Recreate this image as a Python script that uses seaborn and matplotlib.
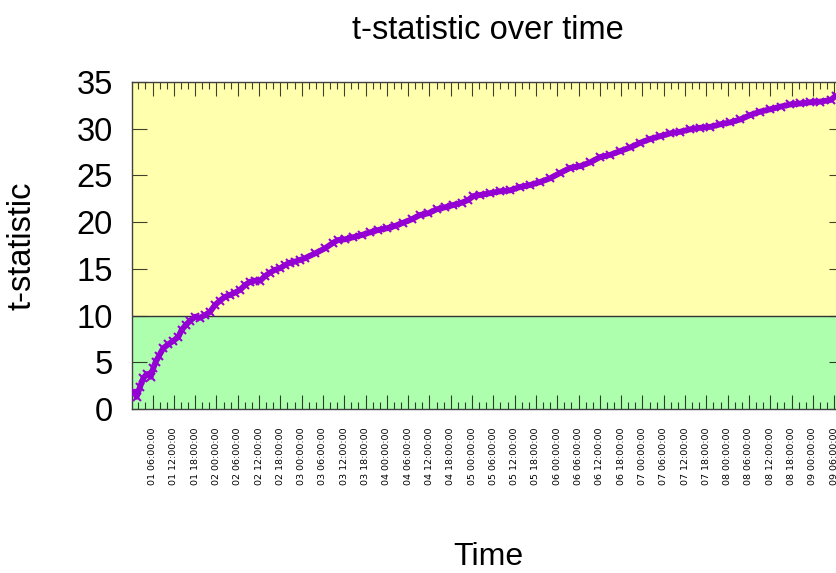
import numpy as np
import pandas as pd
import matplotlib
matplotlib.use("Agg")
import matplotlib.pyplot as plt
import matplotlib.dates as mdates
import seaborn as sns

# ---- data ----
hours = [1.1, 1.5, 2.5, 3.4, 4.4, 5.5, 6.2, 6.9, 7.8, 9.0,
         10.4, 11.9, 13.3, 14.2, 15.4, 16.6, 18.0, 19.4, 20.8, 22.2,
         23.6, 25.0, 26.4, 27.8, 29.2, 30.6, 32.1, 33.5, 34.9, 36.3,
         37.7, 39.1, 40.5, 41.9, 43.3, 44.7, 46.1, 47.5, 48.9, 51.8,
         54.6, 56.9, 58.3, 60.2, 62.5, 64.9, 67.3, 69.6, 72.0, 74.3,
         76.6, 79.0, 81.3, 83.7, 86.0, 88.4, 90.7, 93.1, 94.9, 96.4,
         98.2, 101.1, 103.9, 106.7, 109.5, 112.3, 115.2, 118.0, 120.8, 123.6,
         126.5, 129.3, 132.1, 134.9, 137.7, 140.6, 143.4, 146.2, 149.0, 151.8,
         154.7, 157.5, 160.3, 163.1, 165.9, 168.8, 171.6, 174.4, 177.2, 180.0,
         182.9, 185.7, 188.5, 191.3, 194.1, 197.0, 198.4]
t_stat = [1.85, 1.3, 2.4, 3.3, 3.75, 3.45, 4.35, 5.06, 5.67, 6.5,
          6.92, 7.3, 7.74, 8.46, 9.0, 9.45, 9.88, 9.77, 10.06, 10.4,
          11.13, 11.6, 12.0, 12.2, 12.45, 12.74, 13.27, 13.63, 13.73, 13.73,
          14.23, 14.6, 14.9, 15.06, 15.4, 15.66, 15.77, 15.95, 16.13, 16.66,
          17.2, 17.8, 18.09, 18.16, 18.38, 18.62, 18.91, 19.16, 19.34, 19.59,
          19.94, 20.3, 20.76, 20.95, 21.37, 21.59, 21.83, 22.08, 22.37, 22.8,
          22.9, 23.1, 23.3, 23.4, 23.76, 23.97, 24.3, 24.7, 25.26, 25.8,
          26.0, 26.4, 26.97, 27.2, 27.6, 28.0, 28.5, 28.9, 29.2, 29.5,
          29.68, 29.94, 30.1, 30.2, 30.47, 30.68, 31.0, 31.47, 31.83, 32.08,
          32.36, 32.6, 32.7, 32.83, 32.9, 33.07, 33.5]
y_ticks = [0, 5, 10, 15, 20, 25, 30, 35]
threshold = 10
title = "t-statistic over time"
x_label = "Time"
y_label = "t-statistic"

base = pd.Timestamp("2021-01-01 00:00:00")
df = pd.DataFrame({"time": base + pd.to_timedelta(hours, unit="h"),
                   "t": t_stat})

sns.set_theme(style="ticks")
plt.rcParams["font.family"] = ["Liberation Sans", "DejaVu Sans"]
plt.rcParams["text.color"] = "black"
plt.rcParams["axes.labelcolor"] = "black"

fig = plt.figure(figsize=(8.37, 5.73), dpi=100)
L, R, T, B = 132.3, 844.0, 82.0, 409.0
W, H = 837.0, 573.0
ax = fig.add_axes([L / W, 1 - B / H, (R - L) / W, (B - T) / H])

x0 = base + pd.Timedelta(hours=0.3)
x1 = base + pd.Timedelta(hours=0.3 + (R - L) / 3.55)

ax.axhspan(0, threshold, color="#adffad", zorder=0, lw=0)
ax.axhspan(threshold, 35, color="#ffffad", zorder=0, lw=0)
ax.axhline(threshold, color="#333333", lw=1.0, zorder=1)

sns.lineplot(data=df, x="time", y="t", ax=ax, color="#9400d3", lw=4.2,
             marker="x", markersize=5.5, markeredgewidth=1.5,
             markeredgecolor="#9400d3", zorder=3)

ax.set_xlim(x0, x1)
ax.set_ylim(0, 35)
ax.set_yticks(y_ticks)

ax.xaxis.set_major_locator(mdates.HourLocator(byhour=range(0, 24, 6)))
ax.xaxis.set_minor_locator(mdates.HourLocator(byhour=range(0, 24, 2)))
ax.xaxis.set_major_formatter(mdates.DateFormatter("%d %H:%M:%S"))

tick_col = (0, 0, 0, 0.75)
ax.tick_params(axis="x", which="major", direction="in", length=10, width=0.8,
               color=tick_col, top=True, bottom=True, labelsize=6.8,
               labelrotation=90, pad=13.5, labelcolor="black")
ax.tick_params(axis="x", which="minor", direction="in", length=4.8, width=0.8,
               color=tick_col, top=True, bottom=True)
ax.tick_params(axis="y", which="major", direction="in", length=10.5, width=0.8,
               color=tick_col, left=True, right=True, labelsize=23.5, pad=14,
               labelcolor="black")
for lbl in ax.get_xticklabels():
    lbl.set_fontfamily("DejaVu Sans")

for s in ax.spines.values():
    s.set_color("#404040")
    s.set_linewidth(1.0)
    s.set_visible(True)

ax.set_xlabel(x_label, fontsize=23, color="black")
ax.set_ylabel(y_label, fontsize=23.5, color="black")
ax.xaxis.set_label_coords(0.5, (B - 542) / (B - T))
ax.yaxis.set_label_coords((38 - L) / (R - L), 0.5)
ax.set_title(title, fontsize=23.5, pad=31, color="black")

fig.savefig("out.png", dpi=100)
